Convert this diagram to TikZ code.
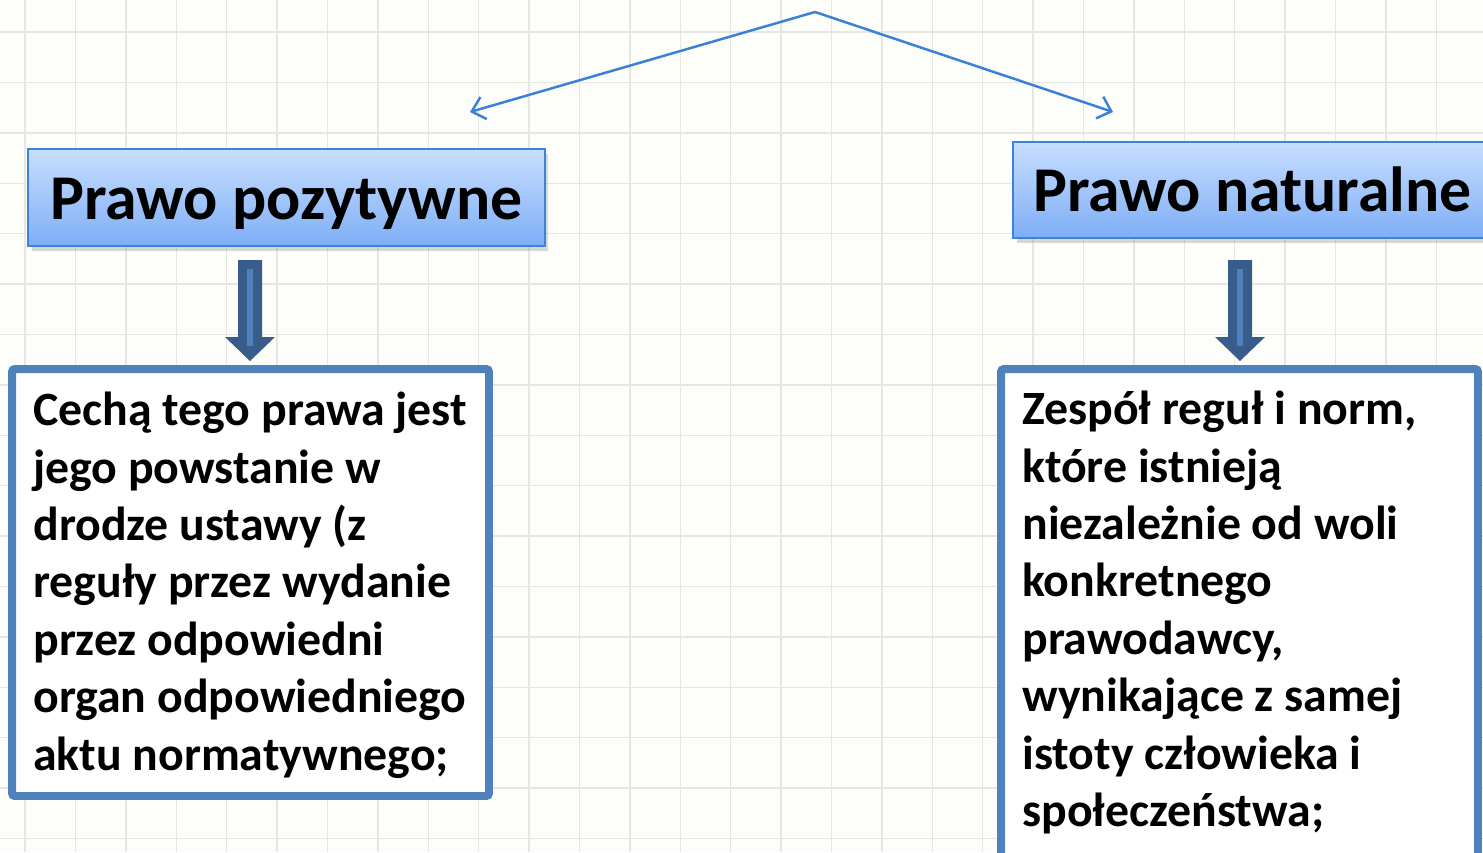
\documentclass[tikz,border=0pt]{standalone}
\usepackage{fontspec}
\setmainfont{Carlito}
\usetikzlibrary{arrows.meta,shadows}

\definecolor{paper}{RGB}{253,253,249}
\definecolor{gridgray}{RGB}{230,230,226}
\definecolor{linkblue}{RGB}{59,128,216}
\definecolor{headtop}{RGB}{200,222,255}
\definecolor{headbot}{RGB}{126,174,246}
\definecolor{headline}{RGB}{62,130,214}
\definecolor{boxline}{RGB}{79,129,189}
\definecolor{arrowdark}{RGB}{56,93,138}

\tikzset{
    heading/.style={draw=headline, line width=1.2pt, top color=headtop, bottom color=headbot,
        font=\fontsize{36.3pt}{43pt}\selectfont\bfseries, text height=24.5pt, text depth=0pt, inner sep=0pt,
        drop shadow={shadow xshift=2pt, shadow yshift=-3pt, opacity=0.3}},
    infobox/.style={draw=boxline, line width=4.5pt, fill=white, rounded corners=1.5pt, inner sep=0pt},
    infotext/.style={anchor=north west, align=left, inner sep=0pt,
        font=\fontsize{27.2pt}{32.65pt}\selectfont\bfseries},
    link/.style={draw=linkblue, line width=1.4pt, -{Straight Barb[length=7pt,width=13pt]}},
    gridline/.style={draw=gridgray, line width=0.8pt}
}

\begin{document}
\begin{tikzpicture}[x=0.02cm, y=-0.02cm]
        \useasboundingbox (0,0) rectangle (1483,852);
        \clip (0,0) rectangle (1483,852);
        \fill[paper] (0,0) rectangle (1483,852);
        \foreach \i in {0,...,29}
            \draw[gridline] (25+50.4*\i,0) -- (25+50.4*\i,852);
        \foreach \i in {0,...,16}
            \draw[gridline] (0,32+50.4*\i) -- (1483,32+50.4*\i);

        % top links
        \coordinate (apex) at (815,12);
        \coordinate (endL) at (470,112);
        \coordinate (endR) at (1113,112);
        \draw[link] (apex) -- (endL);
        \draw[link] (apex) -- (endR);

        % headings
        \node[heading, minimum width=10.34cm, minimum height=1.94cm] (posHead) at (286.5,197.5) {Prawo pozytywne};
        \node[heading, minimum width=9.58cm, minimum height=1.92cm] (natHead) at (1252.5,190) {Prawo naturalne};

        % thick arrows
        \begin{scope}[shift={(250,0)}]
            \fill[arrowdark] (-12,260) -- (12,260) -- (12,337) -- (25,337) -- (0,361) -- (-25,337) -- (-12,337) -- cycle;
            \fill[boxline] (-3,269) rectangle (3,346);
        \end{scope}

        \begin{scope}[shift={(1240,0)}]
            \fill[arrowdark] (-12,260) -- (12,260) -- (12,337) -- (25,337) -- (0,361) -- (-25,337) -- (-12,337) -- cycle;
            \fill[boxline] (-3,269) rectangle (3,346);
        \end{scope}

        % description boxes
        \node[infobox, minimum width=9.54cm, minimum height=8.54cm] (posBox) at (250.5,582.5) {};
        \node[infotext] (posText) at (33,392) {Cechą tego prawa jest\\
            jego powstanie w\\
            drodze ustawy (z\\
            reguły przez wydanie\\
            przez odpowiedni\\
            organ odpowiedniego\\
            aktu normatywnego;};

        \node[infobox, minimum width=9.54cm, minimum height=11.62cm] (natBox) at (1239.5,659.5) {};
        \node[infotext] (natText) at (1022,391) {Zespół reguł i norm,\\
            które istnieją\\
            niezależnie od woli\\
            konkretnego\\
            prawodawcy,\\
            wynikające z samej\\
            istoty człowieka i\\
            społeczeństwa;};
    \end{tikzpicture}
\end{document}
